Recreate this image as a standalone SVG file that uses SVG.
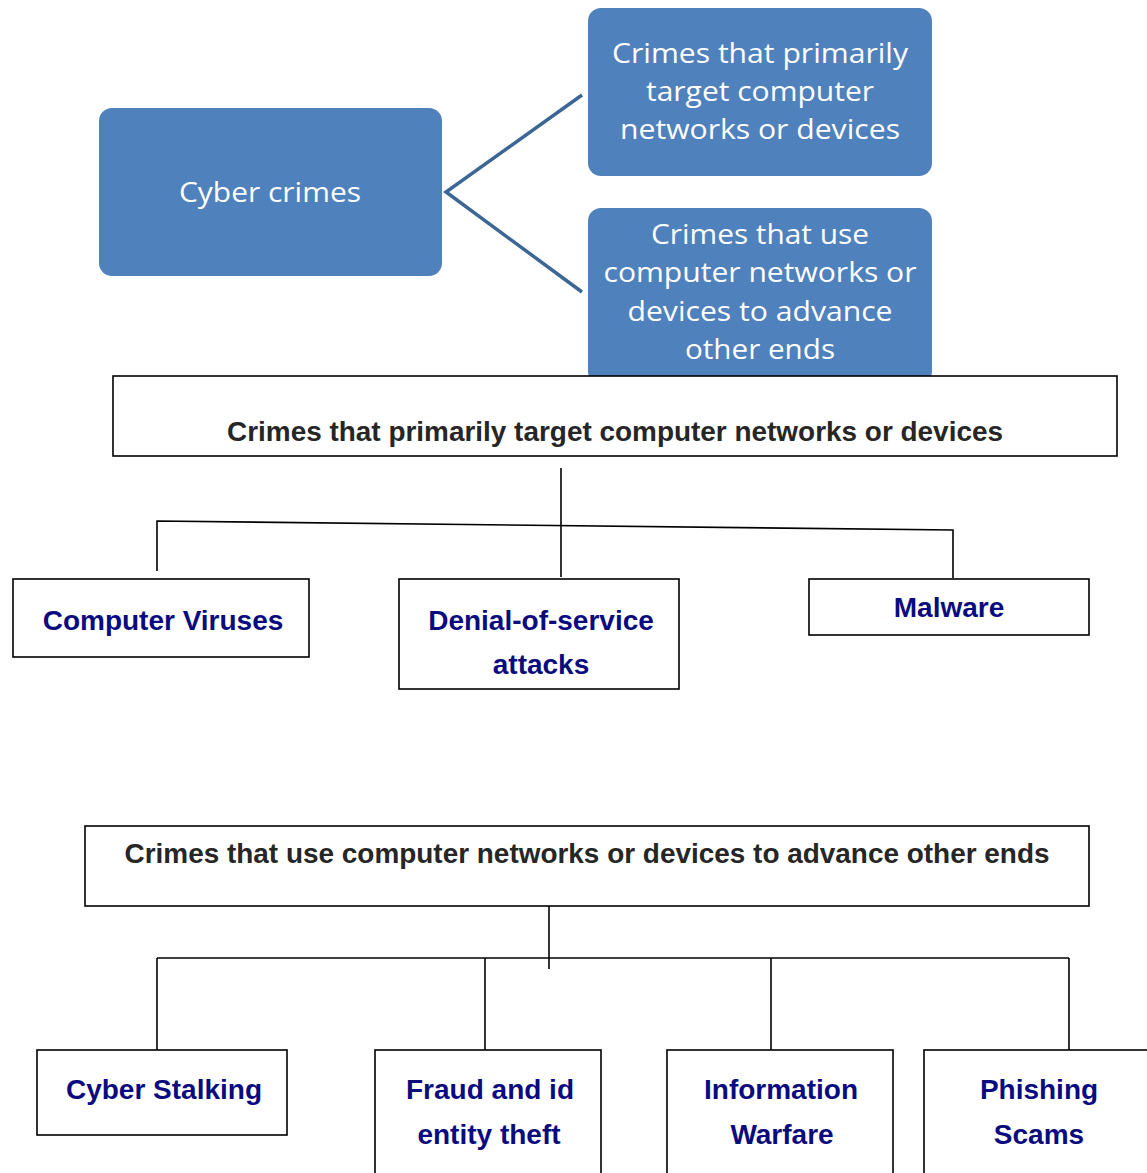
<svg xmlns="http://www.w3.org/2000/svg" width="1147" height="1173" viewBox="0 0 1147 1173">
<style>
.blue{fill:#4f81bd;}
.wt{fill:#fff;font-family:"Open Sans","Noto Sans",sans-serif;font-size:28px;text-anchor:middle;}
.box{fill:#fff;stroke:#000;stroke-width:1.6;}
.hd{fill:#262626;font-family:"Liberation Sans",Arial,sans-serif;font-weight:bold;font-size:28px;text-anchor:middle;}
.lb{fill:#0b0b80;font-family:"Liberation Sans",Arial,sans-serif;font-weight:bold;font-size:28px;text-anchor:middle;}
.ln{fill:none;stroke:#000;stroke-width:1.6;}
.bl{fill:none;stroke:#3c6696;stroke-width:3.5;}
</style>
<rect width="1147" height="1173" fill="#fff"/>
<g id="connectors">
<polyline class="bl" points="582,95 446,192 582,292"/>
<line class="ln" x1="561" y1="468" x2="561" y2="577"/>
<polyline class="ln" points="157,571 157,521 953,530 953,578"/>
<line class="ln" x1="549" y1="906" x2="549" y2="969"/>
<line class="ln" x1="157" y1="958" x2="1069" y2="958"/>
<line class="ln" x1="157" y1="958" x2="157" y2="1050"/>
<line class="ln" x1="485" y1="958" x2="485" y2="1050"/>
<line class="ln" x1="771" y1="958" x2="771" y2="1050"/>
<line class="ln" x1="1069" y1="958" x2="1069" y2="1050"/>
</g>
<g id="cyber-crimes">
<rect class="blue" x="99" y="108" width="343" height="168" rx="13"/>
<text class="wt" x="270" y="202" textLength="182" lengthAdjust="spacingAndGlyphs">Cyber crimes</text>
</g>
<g id="target-crimes">
<rect class="blue" x="588" y="8" width="344" height="168" rx="13"/>
<text class="wt" x="760" y="63" textLength="296" lengthAdjust="spacingAndGlyphs">Crimes that primarily</text>
<text class="wt" x="760" y="101" textLength="228" lengthAdjust="spacingAndGlyphs">target computer</text>
<text class="wt" x="760" y="139" textLength="280" lengthAdjust="spacingAndGlyphs">networks or devices</text>
</g>
<g id="use-crimes">
<rect class="blue" x="588" y="208" width="344" height="176" rx="13"/>
<text class="wt" x="760" y="244" textLength="218" lengthAdjust="spacingAndGlyphs">Crimes that use</text>
<text class="wt" x="760" y="282" textLength="313" lengthAdjust="spacingAndGlyphs">computer networks or</text>
<text class="wt" x="760" y="321" textLength="265" lengthAdjust="spacingAndGlyphs">devices to advance</text>
<text class="wt" x="760" y="359" textLength="150" lengthAdjust="spacingAndGlyphs">other ends</text>
</g>
<g id="header-target">
<rect class="box" x="113" y="376" width="1004" height="80"/>
<text class="hd" x="615" y="441" textLength="776" lengthAdjust="spacingAndGlyphs">Crimes that primarily target computer networks or devices</text>
</g>
<g id="computer-viruses">
<rect class="box" x="13" y="579" width="296" height="78"/>
<text class="lb" x="163" y="630">Computer Viruses</text>
</g>
<g id="dos-attacks">
<rect class="box" x="399" y="579" width="280" height="110"/>
<text class="lb" x="541" y="630">Denial-of-service</text>
<text class="lb" x="541" y="674">attacks</text>
</g>
<g id="malware">
<rect class="box" x="809" y="579" width="280" height="56"/>
<text class="lb" x="949" y="617">Malware</text>
</g>
<g id="header-use">
<rect class="box" x="85" y="826" width="1004" height="80"/>
<text class="hd" x="587" y="863" textLength="925" lengthAdjust="spacingAndGlyphs">Crimes that use computer networks or devices to advance other ends</text>
</g>
<g id="cyber-stalking">
<rect class="box" x="37" y="1050" width="250" height="85"/>
<text class="lb" x="164" y="1099">Cyber Stalking</text>
</g>
<g id="fraud">
<rect class="box" x="375" y="1050" width="226" height="150"/>
<text class="lb" x="490" y="1099">Fraud and id</text>
<text class="lb" x="489" y="1144">entity theft</text>
</g>
<g id="info-warfare">
<rect class="box" x="667" y="1050" width="226" height="150"/>
<text class="lb" x="781" y="1099">Information</text>
<text class="lb" x="782" y="1144">Warfare</text>
</g>
<g id="phishing">
<rect class="box" x="924" y="1050" width="260" height="150"/>
<text class="lb" x="1039" y="1099">Phishing</text>
<text class="lb" x="1039" y="1144">Scams</text>
</g>
</svg>
